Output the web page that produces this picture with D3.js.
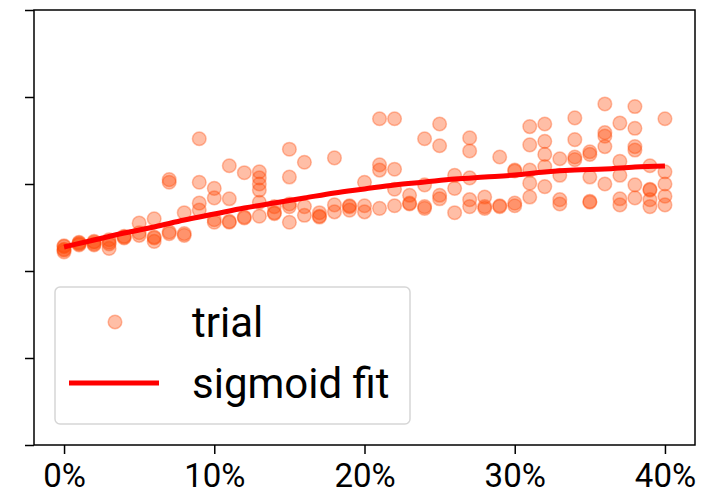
<!DOCTYPE html>
<html>
<head>
<meta charset="utf-8">
<script src="https://cdn.jsdelivr.net/npm/d3@7"></script>
<style>
  html, body { margin: 0; padding: 0; background: #fff; }
  svg { display: block; }
  text { font-family: Roboto, "Noto Sans", sans-serif; fill: #000; }
</style>
</head>
<body>
<svg id="chart" width="724" height="496"></svg>
<script>
// ---- data (x in %, y in arbitrary units; y tick labels are hidden) ----
const trialX = [0,1,2,3,4,5,6,7,8,9,10,11,12,13,14,15,16,17,18,19,20,21,22,23,24,25,26,27,28,29,30,31,32,33,34,35,36,37,38,39,40];
const trialY = [
  [2.28, 2.24, 2.22, 2.25, 2.29],
  [2.32, 2.30, 2.33, 2.31],
  [2.34, 2.31, 2.33, 2.30],
  [2.36, 2.31, 2.26, 2.33],
  [2.40, 2.38, 2.39],
  [2.55, 2.44, 2.41],
  [2.60, 2.38, 2.34, 2.39],
  [3.05, 3.02, 2.45, 2.43],
  [2.67, 2.41, 2.43],
  [3.52, 3.02, 2.78, 2.70],
  [2.95, 2.84, 2.56, 2.59],
  [3.21, 2.83, 2.56, 2.57],
  [3.13, 2.62, 2.61],
  [3.14, 3.07, 3.00, 2.93, 2.79, 2.63],
  [2.67, 2.66, 2.74],
  [3.40, 3.08, 2.77, 2.74, 2.56],
  [3.25, 2.74, 2.64],
  [2.62, 2.63, 2.67],
  [3.30, 2.76, 2.68],
  [2.74, 2.75, 2.70],
  [3.02, 2.75, 2.68],
  [3.75, 3.22, 3.16, 2.72],
  [3.75, 3.17, 2.94, 2.75],
  [2.87, 2.78, 2.77],
  [3.52, 2.99, 2.72, 2.74],
  [3.69, 3.44, 2.87, 2.83],
  [3.10, 2.95, 2.67],
  [3.53, 3.38, 3.07, 2.82, 2.74],
  [2.85, 2.74, 2.72],
  [3.31, 2.74, 2.75],
  [3.16, 3.15, 2.78, 2.75],
  [3.66, 3.45, 3.16, 3.01, 2.85],
  [3.69, 3.49, 3.34, 3.20, 2.97],
  [3.29, 3.10, 2.82, 2.77],
  [3.76, 3.51, 3.31, 3.28],
  [3.37, 3.34, 3.08, 2.80, 2.79],
  [3.92, 3.59, 3.55, 3.43, 3.00],
  [3.70, 3.26, 3.10, 2.83, 2.76],
  [3.89, 3.64, 3.43, 3.39, 2.99, 2.84],
  [3.21, 2.94, 2.93, 2.82, 2.74],
  [3.75, 3.14, 3.00, 2.86, 2.76]
];
const fitX = [0,2,4,6,8,10,12,14,16,18,20,22,24,26,28,30,32,34,36,38,40];
const fitY = [2.276,2.356,2.437,2.506,2.586,2.655,2.724,2.782,2.839,2.897,2.943,2.989,3.023,3.057,3.080,3.103,3.138,3.161,3.172,3.195,3.207];
const xTicks = [0,10,20,30,40];
const yTicks = [0,1,2,3,4,5];
const legendLabels = ["trial", "sigmoid fit"];

// ---- layout ----
const svg = d3.select("#chart");
const L = 34, R = 695, T = 10, B = 445;
const x = d3.scaleLinear().domain([-2, 42]).range([L, R]);
const y = d3.scaleLinear().domain([0, 5]).range([B, T]);
const dotColor = "#FF4500";
const lineColor = "#FF0000";

// points
const pts = [];
trialX.forEach((xv, i) => trialY[i].forEach(yv => pts.push({x: xv, y: yv})));
svg.append("g").selectAll("circle").data(pts).join("circle")
  .attr("cx", d => x(d.x)).attr("cy", d => y(d.y)).attr("r", 6.8)
  .attr("fill", dotColor).attr("fill-opacity", 0.35)
  .attr("stroke", dotColor).attr("stroke-opacity", 0.35).attr("stroke-width", 1.5);

// fit line
const fit = fitX.map((xv, i) => [xv, fitY[i]]);
svg.append("path").datum(fit)
  .attr("d", d3.line().x(d => x(d[0])).y(d => y(d[1])).curve(d3.curveMonotoneX))
  .attr("fill", "none").attr("stroke", lineColor).attr("stroke-width", 5)
  .attr("stroke-linecap", "butt");

// axes
const xAxis = svg.append("g").attr("transform", `translate(0,${B})`)
  .call(d3.axisBottom(x).tickValues(xTicks).tickFormat(d => d + "%").tickSize(9).tickPadding(10));
const yAxis = svg.append("g").attr("transform", `translate(${L},0)`)
  .call(d3.axisLeft(y).tickValues(yTicks).tickFormat("").tickSize(9));
[xAxis, yAxis].forEach(g => {
  g.select(".domain").remove();
  g.selectAll(".tick line").attr("stroke", "#000").attr("stroke-width", 1.5);
});
xAxis.selectAll("text").attr("font-size", 33).attr("font-family", "Roboto").attr("fill", "#000");

// frame
svg.append("rect").attr("x", L).attr("y", T).attr("width", R - L).attr("height", B - T)
  .attr("fill", "none").attr("stroke", "#000").attr("stroke-width", 1.5);

// legend
const lg = svg.append("g");
lg.append("rect").attr("x", 55).attr("y", 287).attr("width", 355).attr("height", 137)
  .attr("rx", 5).attr("fill", "#fff").attr("fill-opacity", 0.8)
  .attr("stroke", "#d6d6d6").attr("stroke-width", 1.5);
lg.append("circle").attr("cx", 115).attr("cy", 322).attr("r", 6.8)
  .attr("fill", dotColor).attr("fill-opacity", 0.35)
  .attr("stroke", dotColor).attr("stroke-opacity", 0.35).attr("stroke-width", 1.5);
lg.append("line").attr("x1", 69).attr("x2", 159).attr("y1", 383).attr("y2", 383)
  .attr("stroke", lineColor).attr("stroke-width", 5);
lg.append("text").attr("x", 192).attr("y", 337).attr("font-size", 42).text(legendLabels[0]);
lg.append("text").attr("x", 192).attr("y", 398).attr("font-size", 42).text(legendLabels[1]);
</script>
</body>
</html>
